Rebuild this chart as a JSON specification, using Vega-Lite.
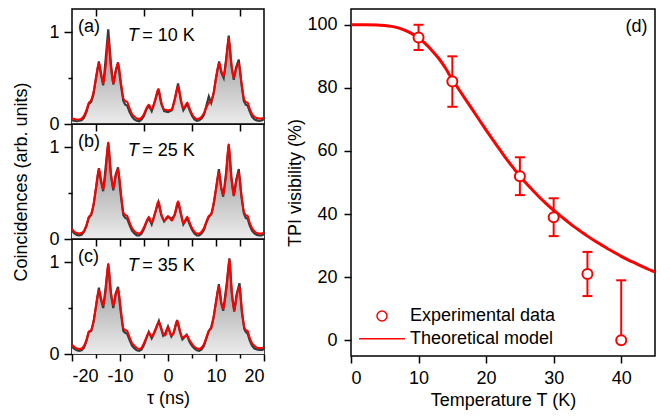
{
"$schema":"https://vega.github.io/schema/vega-lite/v6.json",
"padding":{"left":12,"top":7,"right":5,"bottom":5},
"background":"white",
"datasets":{
"coinc":[
{"p":"a","t":-20,"f":0.06,"e":0.04},{"p":"a","t":-19.5,"f":0.055,"e":0.035},{"p":"a","t":-19,"f":0.05,"e":0.03},{"p":"a","t":-18.5,"f":0.05,"e":0.035},{"p":"a","t":-18,"f":0.06,"e":0.04},{"p":"a","t":-17.5,"f":0.09,"e":0.07},{"p":"a","t":-17,"f":0.15,"e":0.13},{"p":"a","t":-16.5,"f":0.23,"e":0.22},{"p":"a","t":-16,"f":0.26,"e":0.24},{"p":"a","t":-15.5,"f":0.35,"e":0.33},{"p":"a","t":-15,"f":0.5,"e":0.5},{"p":"a","t":-14.4,"f":0.66,"e":0.68},{"p":"a","t":-14,"f":0.57,"e":0.55},{"p":"a","t":-13.5,"f":0.44,"e":0.42},{"p":"a","t":-13,"f":0.62,"e":0.7},{"p":"a","t":-12.45,"f":0.93,"e":1.03},{"p":"a","t":-11.9,"f":0.62,"e":0.66},{"p":"a","t":-11.4,"f":0.44,"e":0.43},{"p":"a","t":-10.9,"f":0.58,"e":0.57},{"p":"a","t":-10.4,"f":0.66,"e":0.67},{"p":"a","t":-9.8,"f":0.45,"e":0.42},{"p":"a","t":-9.3,"f":0.28,"e":0.25},{"p":"a","t":-8.9,"f":0.25,"e":0.21},{"p":"a","t":-8.5,"f":0.24,"e":0.2},{"p":"a","t":-8,"f":0.17,"e":0.13},{"p":"a","t":-7.5,"f":0.11,"e":0.08},{"p":"a","t":-7,"f":0.08,"e":0.05},{"p":"a","t":-6.5,"f":0.06,"e":0.035},{"p":"a","t":-6,"f":0.055,"e":0.03},{"p":"a","t":-5.5,"f":0.07,"e":0.05},{"p":"a","t":-5,"f":0.11,"e":0.09},{"p":"a","t":-4.5,"f":0.17,"e":0.16},{"p":"a","t":-4,"f":0.21,"e":0.2},{"p":"a","t":-3.4,"f":0.16,"e":0.14},{"p":"a","t":-2.7,"f":0.26,"e":0.25},{"p":"a","t":-2,"f":0.38,"e":0.38},{"p":"a","t":-1.4,"f":0.24,"e":0.22},{"p":"a","t":-0.8,"f":0.16,"e":0.14},{"p":"a","t":0,"f":0.15,"e":0.13},{"p":"a","t":0.8,"f":0.16,"e":0.15},{"p":"a","t":1.4,"f":0.26,"e":0.27},{"p":"a","t":2.1,"f":0.41,"e":0.44},{"p":"a","t":2.7,"f":0.26,"e":0.25},{"p":"a","t":3.2,"f":0.17,"e":0.15},{"p":"a","t":4,"f":0.23,"e":0.22},{"p":"a","t":4.5,"f":0.17,"e":0.15},{"p":"a","t":5,"f":0.11,"e":0.09},{"p":"a","t":5.5,"f":0.07,"e":0.05},{"p":"a","t":6,"f":0.055,"e":0.035},{"p":"a","t":6.5,"f":0.06,"e":0.04},{"p":"a","t":7,"f":0.08,"e":0.06},{"p":"a","t":7.5,"f":0.12,"e":0.1},{"p":"a","t":8,"f":0.18,"e":0.2},{"p":"a","t":8.5,"f":0.23,"e":0.3},{"p":"a","t":9,"f":0.25,"e":0.23},{"p":"a","t":9.5,"f":0.34,"e":0.33},{"p":"a","t":10,"f":0.5,"e":0.5},{"p":"a","t":10.65,"f":0.66,"e":0.68},{"p":"a","t":11.1,"f":0.58,"e":0.56},{"p":"a","t":11.6,"f":0.52,"e":0.5},{"p":"a","t":12.1,"f":0.68,"e":0.7},{"p":"a","t":12.65,"f":0.93,"e":0.96},{"p":"a","t":13.2,"f":0.66,"e":0.64},{"p":"a","t":13.7,"f":0.5,"e":0.48},{"p":"a","t":14.2,"f":0.6,"e":0.62},{"p":"a","t":14.75,"f":0.66,"e":0.7},{"p":"a","t":15.3,"f":0.45,"e":0.44},{"p":"a","t":15.8,"f":0.28,"e":0.25},{"p":"a","t":16.2,"f":0.24,"e":0.21},{"p":"a","t":16.6,"f":0.23,"e":0.2},{"p":"a","t":17,"f":0.17,"e":0.14},{"p":"a","t":17.5,"f":0.11,"e":0.08},{"p":"a","t":18,"f":0.08,"e":0.05},{"p":"a","t":18.5,"f":0.065,"e":0.04},{"p":"a","t":19,"f":0.06,"e":0.035},{"p":"a","t":19.5,"f":0.06,"e":0.04},{"p":"a","t":20,"f":0.07,"e":0.05},
{"p":"b","t":-20,"f":0.11,"e":0.09},{"p":"b","t":-19.5,"f":0.08,"e":0.06},{"p":"b","t":-19,"f":0.065,"e":0.045},{"p":"b","t":-18.5,"f":0.06,"e":0.04},{"p":"b","t":-18,"f":0.065,"e":0.045},{"p":"b","t":-17.5,"f":0.09,"e":0.08},{"p":"b","t":-17,"f":0.15,"e":0.14},{"p":"b","t":-16.5,"f":0.24,"e":0.23},{"p":"b","t":-16,"f":0.27,"e":0.26},{"p":"b","t":-15.5,"f":0.38,"e":0.37},{"p":"b","t":-15,"f":0.56,"e":0.55},{"p":"b","t":-14.4,"f":0.76,"e":0.77},{"p":"b","t":-14,"f":0.66,"e":0.64},{"p":"b","t":-13.5,"f":0.54,"e":0.52},{"p":"b","t":-13,"f":0.72,"e":0.78},{"p":"b","t":-12.45,"f":1.05,"e":1.05},{"p":"b","t":-11.9,"f":0.72,"e":0.7},{"p":"b","t":-11.4,"f":0.55,"e":0.53},{"p":"b","t":-10.9,"f":0.68,"e":0.7},{"p":"b","t":-10.4,"f":0.76,"e":0.78},{"p":"b","t":-9.8,"f":0.5,"e":0.46},{"p":"b","t":-9.3,"f":0.29,"e":0.26},{"p":"b","t":-8.9,"f":0.26,"e":0.23},{"p":"b","t":-8.5,"f":0.25,"e":0.22},{"p":"b","t":-8,"f":0.18,"e":0.15},{"p":"b","t":-7.5,"f":0.12,"e":0.09},{"p":"b","t":-7,"f":0.085,"e":0.06},{"p":"b","t":-6.5,"f":0.065,"e":0.04},{"p":"b","t":-6,"f":0.06,"e":0.04},{"p":"b","t":-5.5,"f":0.08,"e":0.06},{"p":"b","t":-5,"f":0.13,"e":0.11},{"p":"b","t":-4.5,"f":0.19,"e":0.18},{"p":"b","t":-4,"f":0.24,"e":0.23},{"p":"b","t":-3.4,"f":0.18,"e":0.16},{"p":"b","t":-2.7,"f":0.28,"e":0.28},{"p":"b","t":-2,"f":0.41,"e":0.4},{"p":"b","t":-1.4,"f":0.27,"e":0.26},{"p":"b","t":-0.8,"f":0.2,"e":0.19},{"p":"b","t":0,"f":0.25,"e":0.24},{"p":"b","t":0.8,"f":0.2,"e":0.22},{"p":"b","t":1.4,"f":0.27,"e":0.26},{"p":"b","t":2.1,"f":0.41,"e":0.4},{"p":"b","t":2.7,"f":0.28,"e":0.27},{"p":"b","t":3.2,"f":0.17,"e":0.16},{"p":"b","t":4,"f":0.24,"e":0.23},{"p":"b","t":4.5,"f":0.18,"e":0.16},{"p":"b","t":5,"f":0.12,"e":0.1},{"p":"b","t":5.5,"f":0.08,"e":0.06},{"p":"b","t":6,"f":0.06,"e":0.04},{"p":"b","t":6.5,"f":0.06,"e":0.04},{"p":"b","t":7,"f":0.08,"e":0.06},{"p":"b","t":7.5,"f":0.12,"e":0.1},{"p":"b","t":8,"f":0.19,"e":0.18},{"p":"b","t":8.5,"f":0.25,"e":0.24},{"p":"b","t":9,"f":0.27,"e":0.27},{"p":"b","t":9.5,"f":0.39,"e":0.37},{"p":"b","t":10,"f":0.55,"e":0.54},{"p":"b","t":10.6,"f":0.72,"e":0.76},{"p":"b","t":11.1,"f":0.55,"e":0.56},{"p":"b","t":11.5,"f":0.48,"e":0.46},{"p":"b","t":12.1,"f":0.7,"e":0.72},{"p":"b","t":12.65,"f":1.03,"e":1.03},{"p":"b","t":13.2,"f":0.66,"e":0.68},{"p":"b","t":13.7,"f":0.47,"e":0.47},{"p":"b","t":14.2,"f":0.62,"e":0.64},{"p":"b","t":14.75,"f":0.72,"e":0.76},{"p":"b","t":15.3,"f":0.48,"e":0.46},{"p":"b","t":15.8,"f":0.3,"e":0.28},{"p":"b","t":16.2,"f":0.26,"e":0.23},{"p":"b","t":16.6,"f":0.25,"e":0.22},{"p":"b","t":17,"f":0.18,"e":0.15},{"p":"b","t":17.5,"f":0.12,"e":0.09},{"p":"b","t":18,"f":0.085,"e":0.06},{"p":"b","t":18.5,"f":0.065,"e":0.045},{"p":"b","t":19,"f":0.06,"e":0.04},{"p":"b","t":19.5,"f":0.06,"e":0.04},{"p":"b","t":20,"f":0.07,"e":0.05},
{"p":"c","t":-20,"f":0.1,"e":0.08},{"p":"c","t":-19.5,"f":0.075,"e":0.055},{"p":"c","t":-19,"f":0.06,"e":0.04},{"p":"c","t":-18.5,"f":0.055,"e":0.035},{"p":"c","t":-18,"f":0.06,"e":0.04},{"p":"c","t":-17.5,"f":0.09,"e":0.07},{"p":"c","t":-17,"f":0.15,"e":0.14},{"p":"c","t":-16.5,"f":0.24,"e":0.24},{"p":"c","t":-16,"f":0.26,"e":0.25},{"p":"c","t":-15.5,"f":0.36,"e":0.35},{"p":"c","t":-15,"f":0.52,"e":0.52},{"p":"c","t":-14.4,"f":0.69,"e":0.72},{"p":"c","t":-14,"f":0.62,"e":0.6},{"p":"c","t":-13.5,"f":0.53,"e":0.5},{"p":"c","t":-13,"f":0.68,"e":0.72},{"p":"c","t":-12.45,"f":0.98,"e":0.98},{"p":"c","t":-11.9,"f":0.68,"e":0.66},{"p":"c","t":-11.4,"f":0.53,"e":0.5},{"p":"c","t":-10.9,"f":0.64,"e":0.66},{"p":"c","t":-10.4,"f":0.7,"e":0.73},{"p":"c","t":-9.8,"f":0.47,"e":0.44},{"p":"c","t":-9.3,"f":0.28,"e":0.25},{"p":"c","t":-8.9,"f":0.26,"e":0.23},{"p":"c","t":-8.5,"f":0.25,"e":0.22},{"p":"c","t":-8,"f":0.18,"e":0.15},{"p":"c","t":-7.5,"f":0.12,"e":0.09},{"p":"c","t":-7,"f":0.09,"e":0.06},{"p":"c","t":-6.5,"f":0.065,"e":0.04},{"p":"c","t":-6,"f":0.055,"e":0.035},{"p":"c","t":-5.5,"f":0.07,"e":0.05},{"p":"c","t":-5,"f":0.12,"e":0.1},{"p":"c","t":-4.5,"f":0.18,"e":0.17},{"p":"c","t":-4,"f":0.235,"e":0.24},{"p":"c","t":-3.4,"f":0.19,"e":0.17},{"p":"c","t":-2.7,"f":0.26,"e":0.25},{"p":"c","t":-1.9,"f":0.345,"e":0.36},{"p":"c","t":-1,"f":0.22,"e":0.2},{"p":"c","t":-0.6,"f":0.2,"e":0.22},{"p":"c","t":0,"f":0.29,"e":0.3},{"p":"c","t":0.7,"f":0.2,"e":0.19},{"p":"c","t":1.2,"f":0.24,"e":0.23},{"p":"c","t":1.9,"f":0.36,"e":0.37},{"p":"c","t":2.5,"f":0.25,"e":0.24},{"p":"c","t":3,"f":0.18,"e":0.16},{"p":"c","t":3.9,"f":0.2,"e":0.21},{"p":"c","t":4.5,"f":0.15,"e":0.13},{"p":"c","t":5,"f":0.11,"e":0.09},{"p":"c","t":5.5,"f":0.08,"e":0.06},{"p":"c","t":6,"f":0.06,"e":0.04},{"p":"c","t":6.5,"f":0.055,"e":0.035},{"p":"c","t":7,"f":0.07,"e":0.05},{"p":"c","t":7.5,"f":0.11,"e":0.09},{"p":"c","t":8,"f":0.18,"e":0.17},{"p":"c","t":8.5,"f":0.25,"e":0.25},{"p":"c","t":9,"f":0.28,"e":0.29},{"p":"c","t":9.5,"f":0.4,"e":0.4},{"p":"c","t":10,"f":0.56,"e":0.57},{"p":"c","t":10.6,"f":0.73,"e":0.76},{"p":"c","t":11.1,"f":0.56,"e":0.55},{"p":"c","t":11.5,"f":0.49,"e":0.47},{"p":"c","t":12.2,"f":0.72,"e":0.75},{"p":"c","t":12.8,"f":1.03,"e":1.04},{"p":"c","t":13.3,"f":0.66,"e":0.66},{"p":"c","t":13.8,"f":0.47,"e":0.46},{"p":"c","t":14.3,"f":0.63,"e":0.65},{"p":"c","t":14.9,"f":0.73,"e":0.77},{"p":"c","t":15.4,"f":0.47,"e":0.45},{"p":"c","t":15.9,"f":0.29,"e":0.27},{"p":"c","t":16.2,"f":0.26,"e":0.24},{"p":"c","t":16.6,"f":0.25,"e":0.22},{"p":"c","t":17,"f":0.18,"e":0.15},{"p":"c","t":17.5,"f":0.12,"e":0.09},{"p":"c","t":18,"f":0.09,"e":0.06},{"p":"c","t":18.5,"f":0.07,"e":0.05},{"p":"c","t":19,"f":0.065,"e":0.045},{"p":"c","t":19.5,"f":0.065,"e":0.045},{"p":"c","t":20,"f":0.07,"e":0.05}
],
"model":[{"T":0,"m":100},{"T":2,"m":100},{"T":4,"m":99.9},{"T":5,"m":99.8},{"T":6,"m":99.5},{"T":7,"m":99},{"T":8,"m":98.2},{"T":9,"m":97.2},{"T":10,"m":95.8},{"T":11,"m":94},{"T":12,"m":91.8},{"T":13,"m":89.3},{"T":14,"m":86.2},{"T":15,"m":82.6},{"T":16,"m":79.4},{"T":17,"m":76.2},{"T":18,"m":73},{"T":19,"m":69.8},{"T":20,"m":66.6},{"T":21,"m":63.5},{"T":22,"m":60.5},{"T":23,"m":57.5},{"T":24,"m":54.7},{"T":25,"m":52},{"T":26,"m":49.6},{"T":27,"m":47.3},{"T":28,"m":45.1},{"T":29,"m":43.1},{"T":30,"m":41.2},{"T":31,"m":39.4},{"T":32,"m":37.7},{"T":33,"m":36},{"T":34,"m":34.5},{"T":35,"m":33},{"T":36,"m":31.6},{"T":37,"m":30.3},{"T":38,"m":29},{"T":39,"m":27.8},{"T":40,"m":26.6},{"T":41,"m":25.5},{"T":42,"m":24.5},{"T":43,"m":23.5},{"T":44,"m":22.5},{"T":45,"m":21.6}],
"points":[{"T":10,"v":96,"lo":92,"hi":100,"s":"Experimental data"},{"T":15,"v":82,"lo":74,"hi":90,"s":"Experimental data"},{"T":25,"v":52,"lo":46,"hi":58,"s":"Experimental data"},{"T":30,"v":39,"lo":33,"hi":45,"s":"Experimental data"},{"T":35,"v":21,"lo":14,"hi":28,"s":"Experimental data"},{"T":40,"v":0,"lo":0,"hi":19,"s":"Experimental data"}]
},
"hconcat":[
{"vconcat":[
{"width":192,"height":115,
"layer":[
{"data":{"name":"coinc"},"transform":[{"filter":"datum.p==='a'"}],
"mark":{"type":"area","clip":true,"color":{"gradient":"linear","x1":0,"y1":0,"x2":0,"y2":1,"stops":[{"offset":0,"color":"#8a8a8a"},{"offset":1,"color":"#ececec"}]}},
"encoding":{"x":{"field":"t","type":"quantitative","scale":{"domain":[-20,20],"nice":false,"zero":false},"axis":{"orient":"top","values":[-15,-10,-5,0,5,10,15],"tickSize":-7,"labels":false,"title":null}},
"y":{"field":"e","type":"quantitative","scale":{"domain":[0,1.25],"nice":false},"axis":{"values":[0,0.5,1],"labelExpr":"datum.value===0.5?'':format(datum.value,'d')","tickSize":{"condition":{"test":"datum.value===0.5","value":4},"value":8},"labelPadding":5,"title":null}}}},
{"data":{"name":"coinc"},"transform":[{"filter":"datum.p==='a'"}],
"mark":{"type":"line","clip":true,"color":"#3a3a3a","strokeWidth":2.2},
"encoding":{"x":{"field":"t","type":"quantitative"},"y":{"field":"e","type":"quantitative"}}},
{"data":{"name":"coinc"},"transform":[{"filter":"datum.p==='a'"}],
"mark":{"type":"line","clip":true,"color":"#ff0000","strokeWidth":2,"interpolate":"monotone"},
"encoding":{"x":{"field":"t","type":"quantitative"},"y":{"field":"f","type":"quantitative"}}},
{"data":{"values":[{"label":"(a)"}]},"mark":{"type":"text","align":"left","baseline":"middle","fontSize":18},
"encoding":{"x":{"datum":-18.75,"type":"quantitative"},"y":{"datum":1.05,"type":"quantitative"},"text":{"field":"label"}}},
{"data":{"values":[{"label":"T"}]},"mark":{"type":"text","align":"left","baseline":"middle","fontSize":18,"fontStyle":"italic"},
"encoding":{"x":{"datum":-8.4,"type":"quantitative"},"y":{"datum":0.96,"type":"quantitative"},"text":{"field":"label"}}},
{"data":{"values":[{"label":"= 10 K"}]},"mark":{"type":"text","align":"left","baseline":"middle","fontSize":18},
"encoding":{"x":{"datum":-5.35,"type":"quantitative"},"y":{"datum":0.96,"type":"quantitative"},"text":{"field":"label"}}}
]},
{"width":192,"height":115,
"layer":[
{"data":{"name":"coinc"},"transform":[{"filter":"datum.p==='b'"}],
"mark":{"type":"area","clip":true,"color":{"gradient":"linear","x1":0,"y1":0,"x2":0,"y2":1,"stops":[{"offset":0,"color":"#8a8a8a"},{"offset":1,"color":"#ececec"}]}},
"encoding":{"x":{"field":"t","type":"quantitative","scale":{"domain":[-20,20],"nice":false,"zero":false},"axis":{"orient":"top","values":[-15,-10,-5,0,5,10,15],"tickSize":-7,"labels":false,"title":null}},
"y":{"field":"e","type":"quantitative","scale":{"domain":[0,1.25],"nice":false},"axis":{"values":[0,0.5,1],"labelExpr":"datum.value===0.5?'':format(datum.value,'d')","tickSize":{"condition":{"test":"datum.value===0.5","value":4},"value":8},"labelPadding":5,"title":"Coincidences (arb. units)","titlePadding":18}}}},
{"data":{"name":"coinc"},"transform":[{"filter":"datum.p==='b'"}],
"mark":{"type":"line","clip":true,"color":"#3a3a3a","strokeWidth":2.2},
"encoding":{"x":{"field":"t","type":"quantitative"},"y":{"field":"e","type":"quantitative"}}},
{"data":{"name":"coinc"},"transform":[{"filter":"datum.p==='b'"}],
"mark":{"type":"line","clip":true,"color":"#ff0000","strokeWidth":2,"interpolate":"monotone"},
"encoding":{"x":{"field":"t","type":"quantitative"},"y":{"field":"f","type":"quantitative"}}},
{"data":{"values":[{"label":"(b)"}]},"mark":{"type":"text","align":"left","baseline":"middle","fontSize":18},
"encoding":{"x":{"datum":-18.75,"type":"quantitative"},"y":{"datum":1.05,"type":"quantitative"},"text":{"field":"label"}}},
{"data":{"values":[{"label":"T"}]},"mark":{"type":"text","align":"left","baseline":"middle","fontSize":18,"fontStyle":"italic"},
"encoding":{"x":{"datum":-8.4,"type":"quantitative"},"y":{"datum":0.96,"type":"quantitative"},"text":{"field":"label"}}},
{"data":{"values":[{"label":"= 25 K"}]},"mark":{"type":"text","align":"left","baseline":"middle","fontSize":18},
"encoding":{"x":{"datum":-5.35,"type":"quantitative"},"y":{"datum":0.96,"type":"quantitative"},"text":{"field":"label"}}}
]},
{"width":192,"height":115,
"resolve":{"axis":{"x":"independent"}},
"layer":[
{"data":{"name":"coinc"},"transform":[{"filter":"datum.p==='c'"}],
"mark":{"type":"area","clip":true,"color":{"gradient":"linear","x1":0,"y1":0,"x2":0,"y2":1,"stops":[{"offset":0,"color":"#8a8a8a"},{"offset":1,"color":"#ececec"}]}},
"encoding":{"x":{"field":"t","type":"quantitative","scale":{"domain":[-20,20],"nice":false,"zero":false},"axis":{"orient":"bottom","values":[-20,-15,-10,-5,0,5,10,15,20],"labelExpr":"datum.value%10===0?''+datum.value:''","tickSize":{"condition":{"test":"datum.value%10!==0","value":4},"value":7},"labelPadding":6,"title":"τ (ns)","titlePadding":4}},
"y":{"field":"e","type":"quantitative","scale":{"domain":[0,1.25],"nice":false},"axis":{"values":[0,0.5,1],"labelExpr":"datum.value===0.5?'':format(datum.value,'d')","tickSize":{"condition":{"test":"datum.value===0.5","value":4},"value":8},"labelPadding":5,"title":null}}}},
{"data":{"name":"coinc"},"transform":[{"filter":"datum.p==='c'"}],
"mark":{"type":"line","clip":true,"color":"#3a3a3a","strokeWidth":2.2},
"encoding":{"x":{"field":"t","type":"quantitative","scale":{"domain":[-20,20],"nice":false,"zero":false},"axis":null},"y":{"field":"e","type":"quantitative"}}},
{"data":{"name":"coinc"},"transform":[{"filter":"datum.p==='c'"}],
"mark":{"type":"line","clip":true,"color":"#ff0000","strokeWidth":2,"interpolate":"monotone"},
"encoding":{"x":{"field":"t","type":"quantitative","scale":{"domain":[-20,20],"nice":false,"zero":false},"axis":{"orient":"top","values":[-15,-10,-5,0,5,10,15],"tickSize":-7,"labels":false,"title":null}},"y":{"field":"f","type":"quantitative"}}},
{"data":{"values":[{"label":"(c)"}]},"mark":{"type":"text","align":"left","baseline":"middle","fontSize":18},
"encoding":{"x":{"datum":-18.75,"type":"quantitative","axis":null},"y":{"datum":1.05,"type":"quantitative"},"text":{"field":"label"}}},
{"data":{"values":[{"label":"T"}]},"mark":{"type":"text","align":"left","baseline":"middle","fontSize":18,"fontStyle":"italic"},
"encoding":{"x":{"datum":-8.4,"type":"quantitative","axis":null},"y":{"datum":0.96,"type":"quantitative"},"text":{"field":"label"}}},
{"data":{"values":[{"label":"= 35 K"}]},"mark":{"type":"text","align":"left","baseline":"middle","fontSize":18},
"encoding":{"x":{"datum":-5.35,"type":"quantitative","axis":null},"y":{"datum":0.96,"type":"quantitative"},"text":{"field":"label"}}}
]}
],"spacing":0,"bounds":"flush"},
{"width":304,"height":347,
"layer":[
{"data":{"name":"model"},"mark":{"type":"line","color":"#ff0000","strokeWidth":3,"interpolate":"monotone","clip":true},
"encoding":{"x":{"field":"T","type":"quantitative","scale":{"domain":[0,45],"nice":false},"axis":{"values":[0,5,10,15,20,25,30,35,40],"labelExpr":"datum.value%10===0?datum.label:''","tickSize":{"condition":{"test":"datum.value%10!==0","value":4},"value":7},"labelPadding":6,"title":"Temperature  T (K)","titlePadding":4}},
"y":{"field":"m","type":"quantitative","scale":{"domain":[-5,105],"nice":false},"axis":{"values":[0,10,20,30,40,50,60,70,80,90,100],"labelExpr":"datum.value%20===0?datum.label:''","tickSize":{"condition":{"test":"datum.value%20!==0","value":4},"value":7},"labelPadding":7,"title":"TPI visibility (%)","titlePadding":2}}}},
{"data":{"name":"points"},"mark":{"type":"rule","color":"#ff0000","strokeWidth":2},
"encoding":{"x":{"field":"T","type":"quantitative"},"y":{"field":"lo","type":"quantitative"},"y2":{"field":"hi"}}},
{"data":{"name":"points"},"mark":{"type":"tick","orient":"horizontal","color":"#ff0000","size":10,"thickness":2,"opacity":1},
"encoding":{"x":{"field":"T","type":"quantitative"},"y":{"field":"hi","type":"quantitative"}}},
{"data":{"name":"points"},"mark":{"type":"tick","orient":"horizontal","color":"#ff0000","size":10,"thickness":2,"opacity":1},
"encoding":{"x":{"field":"T","type":"quantitative"},"y":{"field":"lo","type":"quantitative"}}},
{"data":{"name":"points"},"mark":{"type":"point","filled":true,"fill":"white","stroke":"#ff0000","strokeWidth":2,"opacity":1},
"encoding":{"x":{"field":"T","type":"quantitative"},"y":{"field":"v","type":"quantitative"},
"shape":{"field":"s","type":"nominal","scale":{"domain":["Experimental data","Theoretical model"],"range":["circle","stroke"]},"legend":{"title":null,"orient":"bottom-left","offset":7,"labelFontSize":18,"labelFont":"Liberation Sans","labelColor":"black","clipHeight":20,"rowPadding":2.7,"labelOffset":4,"padding":0,"encode":{"symbols":{"update":{"stroke":{"value":"#ff0000"},"strokeWidth":{"signal":"datum.value==='Theoretical model'?3.5:2.2"},"fill":{"value":"white"},"opacity":{"value":1}}}}}},
"size":{"field":"s","type":"nominal","scale":{"domain":["Experimental data","Theoretical model"],"range":[100,2100]},"legend":{"title":null,"orient":"bottom-left","offset":7,"labelFontSize":18,"labelFont":"Liberation Sans","labelColor":"black","clipHeight":20,"rowPadding":2.7,"labelOffset":4,"padding":0,"encode":{"symbols":{"update":{"stroke":{"value":"#ff0000"},"strokeWidth":{"signal":"datum.value==='Theoretical model'?3.5:2.2"},"fill":{"value":"white"},"opacity":{"value":1}}}}}}}},
{"data":{"values":[{"label":"(d)"}]},"mark":{"type":"text","align":"right","baseline":"middle","fontSize":18},
"encoding":{"x":{"datum":43.9,"type":"quantitative"},"y":{"datum":99.4,"type":"quantitative"},"text":{"field":"label"}}}
]}
],
"spacing":20,
"resolve":{"legend":{"shape":"independent","size":"independent"}},
"config":{"font":"Liberation Sans","view":{"stroke":"black","strokeWidth":1.5},
"axis":{"labelFont":"Liberation Sans","titleFont":"Liberation Sans","labelFontSize":18,"titleFontSize":18,"labelColor":"black","titleColor":"black","tickColor":"black","tickWidth":1.5,"domain":false,"grid":false,"titleFontWeight":"normal"},
"text":{"font":"Liberation Sans","color":"black"}}
}
